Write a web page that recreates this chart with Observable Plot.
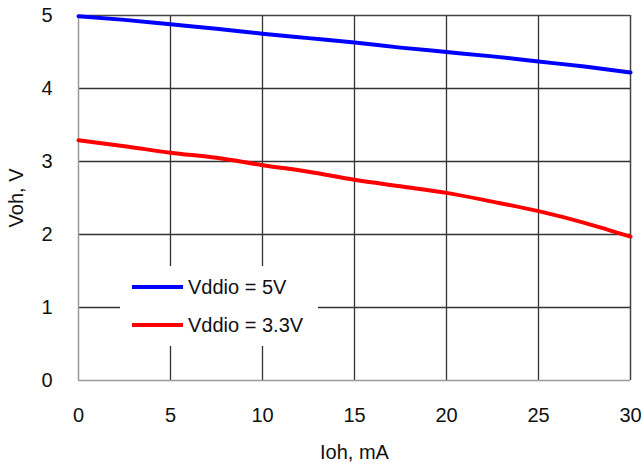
<!DOCTYPE html>
<html>
<head>
<meta charset="utf-8">
<script src="https://cdn.jsdelivr.net/npm/d3@7"></script>
<script src="https://cdn.jsdelivr.net/npm/@observablehq/plot@0.6"></script>
<style>
  body { margin: 0; background: #fff; }
  #wrap { position: relative; width: 642px; height: 466px; font-family: "Liberation Sans", Arial, sans-serif; }
  #legend { position: absolute; left: 120px; top: 266px; width: 198px; height: 80px; background: #fff; font-size: 20px; color: #111; }
  .row { position: absolute; left: 12px; display: flex; align-items: center; height: 24px; }
  .sw { width: 51px; height: 0; border-top: 4px solid; margin-right: 5px; }
</style>
</head>
<body>
<div id="wrap"></div>
<script>
const ioh = [0, 2.5, 5, 7.5, 10, 12.5, 15, 17.5, 20, 22.5, 25, 27.5, 30];
const voh5V = [4.99, 4.94, 4.88, 4.82, 4.75, 4.69, 4.63, 4.56, 4.50, 4.44, 4.37, 4.30, 4.22];
const voh33V = [3.29, 3.21, 3.12, 3.05, 2.95, 2.86, 2.75, 2.66, 2.57, 2.45, 2.32, 2.16, 1.97];
const seriesNames = ["Vddio = 5V", "Vddio = 3.3V"];
const seriesColors = ["#0000ff", "#ff0000"];
const xTicks = [0, 5, 10, 15, 20, 25, 30];
const yTicks = [0, 1, 2, 3, 4, 5];
const xGrid = [5, 10, 15, 20, 25];
const yGrid = [1, 2, 3, 4];

const data = [];
ioh.forEach((x, i) => {
  data.push({x, y: voh5V[i], s: seriesNames[0]});
  data.push({x, y: voh33V[i], s: seriesNames[1]});
});

const plot = Plot.plot({
  width: 642,
  height: 466,
  marginLeft: 78,
  marginRight: 12,
  marginTop: 15,
  marginBottom: 86,
  style: { fontFamily: '"Liberation Sans", Arial, sans-serif', fontSize: "20px", color: "#111", background: "#fff" },
  x: { domain: [0, 30] },
  y: { domain: [0, 5] },
  color: { domain: seriesNames, range: seriesColors },
  marks: [
    Plot.ruleX(xGrid, { stroke: "#333", strokeWidth: 1.3 }),
    Plot.ruleY(yGrid, { stroke: "#333", strokeWidth: 1.3 }),
    Plot.ruleX([30], { stroke: "#444", strokeWidth: 1.5 }),
    Plot.ruleY([5], { stroke: "#444", strokeWidth: 1.5 }),
    Plot.ruleX([0], { stroke: "#999", strokeWidth: 1.5 }),
    Plot.ruleY([0], { stroke: "#999", strokeWidth: 1.5 }),
    Plot.line(data, { x: "x", y: "y", z: "s", stroke: "s", strokeWidth: 4, curve: "monotone-x" }),
    Plot.axisX(xTicks, { tickSize: 0, tickPadding: 27, tickFormat: d3.format("d"), label: "Ioh, mA", labelAnchor: "center", labelOffset: 78, labelArrow: "none" }),
    Plot.axisY(yTicks, { tickSize: 0, tickPadding: 26, tickFormat: d3.format("d"), label: "Voh, V", labelAnchor: "center", labelOffset: 70, labelArrow: "none" })
  ]
});
const wrap = document.getElementById("wrap");
wrap.appendChild(plot);

const legend = document.createElement("div");
legend.id = "legend";
seriesNames.forEach((name, i) => {
  const row = document.createElement("div");
  row.className = "row";
  row.style.top = (9 + i * 38) + "px";
  const sw = document.createElement("div");
  sw.className = "sw";
  sw.style.borderColor = seriesColors[i];
  const t = document.createElement("span");
  t.textContent = name;
  row.appendChild(sw);
  row.appendChild(t);
  legend.appendChild(row);
});
wrap.appendChild(legend);
</script>
</body>
</html>
